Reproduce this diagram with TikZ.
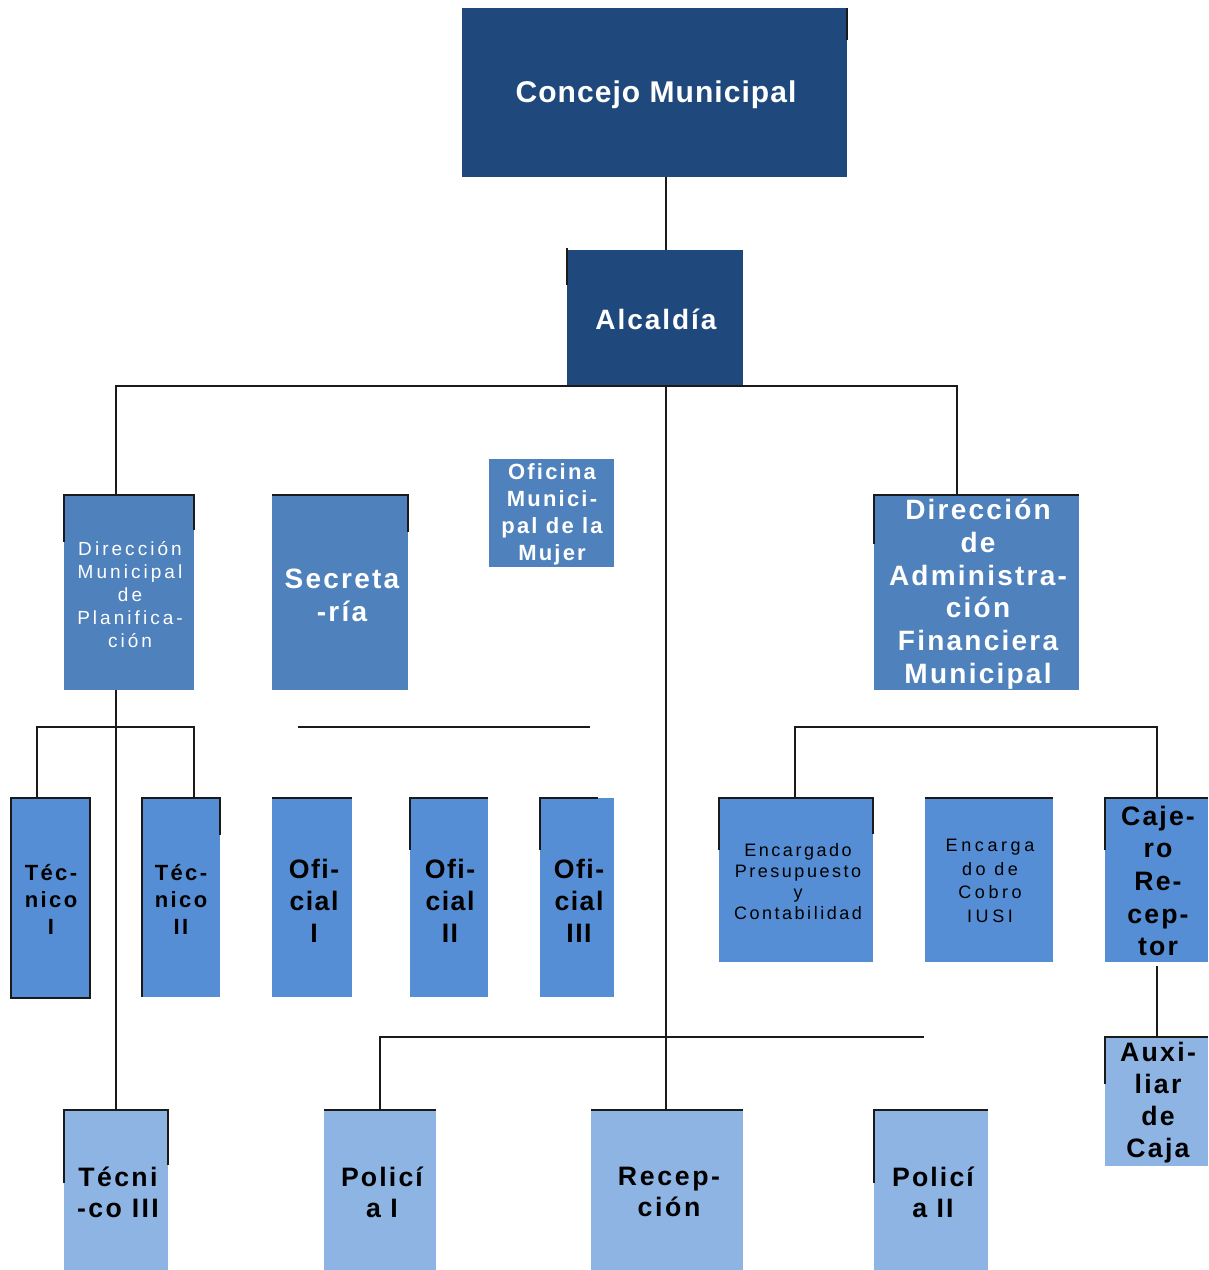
\documentclass[tikz,border=0pt]{standalone}
\usepackage{fontspec}
\setmainfont{Liberation Sans}
\usetikzlibrary{fit}
\definecolor{cdark}{HTML}{1F497D}
\definecolor{cmid}{HTML}{4F81BD}
\definecolor{cbright}{HTML}{558ED5}
\definecolor{clight}{HTML}{8EB4E3}
\definecolor{cline}{HTML}{1A1A1A}
\newcommand\fsz[3]{\fontsize{#1pt}{#2pt}\selectfont\addfontfeature{LetterSpace=#3}}
\tikzset{
  box/.style={inner sep=0pt, outer sep=0pt, draw=none, fill=#1},
  conn/.style={line width=1.5pt, draw=cline},
  edgeln/.style={line width=2.2pt, draw=cline},
  wt/.style={text=white, align=center, inner sep=0pt},
  bt/.style={text=black, align=center, inner sep=0pt},
}
\begin{document}
\begin{tikzpicture}[x=0.75pt, y=-0.75pt]
\useasboundingbox (0,0) rectangle (1209,1270);
% boxes
\node[box=cdark, fit={(462,8)(847,177)}] (cm) {};
\node[box=cdark, fit={(567,250)(743,386)}] (al) {};
\node[box=cmid, fit={(64,495)(194,690)}] (dmp) {};
\node[box=cmid, fit={(272,495)(408,690)}] (sec) {};
\node[box=cmid, fit={(489,459)(614,567)}] (omm) {};
\node[box=cmid, fit={(874,495)(1079,690)}] (dafm) {};
\node[box=cbright, fit={(11,798)(90,998)}] (t1) {};
\node[box=cbright, fit={(142,798)(220,997)}] (t2) {};
\node[box=cbright, fit={(272,798)(352,997)}] (o1) {};
\node[box=cbright, fit={(410,798)(488,997)}] (o2) {};
\node[box=cbright, fit={(540,798)(614,997)}] (o3) {};
\node[box=cbright, fit={(719,798)(873,962)}] (epc) {};
\node[box=cbright, fit={(925,798)(1053,962)}] (eci) {};
\node[box=cbright, fit={(1105,798)(1208,962)}] (caj) {};
\node[box=clight, fit={(1105,1037)(1208,1166)}] (aux) {};
\node[box=clight, fit={(64,1110)(168,1270)}] (t3) {};
\node[box=clight, fit={(324,1110)(436,1270)}] (p1) {};
\node[box=clight, fit={(591,1110)(743,1270)}] (rec) {};
\node[box=clight, fit={(874,1110)(988,1270)}] (p2) {};
% helper coordinates
\coordinate (trunk) at (666,386);
\coordinate (lx) at (116,386);
\coordinate (rx) at (957,386);
\coordinate (lb) at (116,727);
\coordinate (lbl) at (37,727);
\coordinate (lbr) at (194,727);
\coordinate (sa) at (298,727);
\coordinate (sb) at (590,727);
\coordinate (rb) at (795,727);
\coordinate (bb) at (380,1037);
\coordinate (be) at (924,1037);
% connectors
\draw[conn] (cm.south -| trunk) -- (al.north -| trunk);
\draw[conn] (dmp.north -| lx) -- (lx) -- (rx) -- (dafm.north -| rx);
\draw[conn] (trunk) -- (rec.north -| trunk);
\draw[conn] (dmp.south -| lx) -- (t3.north -| lx);
\draw[conn] (t1.north -| lbl) -- (lbl) -- (lbr) -- (t2.north -| lbr);
\draw[conn] (sa) -- (sb);
\draw[conn] (epc.north -| rb) -- (rb) -| (caj.north);
\draw[conn] ([yshift=-3pt]caj.south) -- (aux.north);
\draw[conn] (p1.north -| bb) -- (bb) -- (be);
% black edge fragments
\draw[edgeln] (cm.north east) -- ++(0,32);
\draw[edgeln] ([yshift=1.5pt]al.north west) -- ++(0,37);
\draw[edgeln] ([yshift=-35pt]dmp.north west) -- (dmp.north west) -- (dmp.north east) -- ++(0,35);
\draw[edgeln] (sec.north west) -- (sec.north east) -- ++(0,37);
\draw[edgeln] ([yshift=-37pt]dafm.north west) -- (dafm.north west) -- (dafm.north east);
\draw[edgeln] (t1.north west) rectangle (t1.south east);
\draw[edgeln] (t2.south west) -- (t2.north west) -- (t2.north east) -- ++(0,37);
\draw[edgeln] (o1.north west) -- (o1.north east);
\draw[edgeln] ([yshift=-39pt]o2.north west) -- (o2.north west) -- (o2.north east);
\draw[edgeln] ([yshift=-39pt]o3.north west) -- (o3.north west) -- ++(58,0);
\draw[edgeln] ([yshift=-39pt]epc.north west) -- (epc.north west) -- (epc.north east) -- ++(0,36);
\draw[edgeln] (eci.north west) -- (eci.north east);
\draw[edgeln] ([yshift=-39pt]caj.north west) -- (caj.north west) -- (caj.north east);
\draw[edgeln] ([yshift=-35pt]aux.north west) -- (aux.north west) -- (aux.north east);
\draw[edgeln] ([yshift=-55pt]t3.north west) -- (t3.north west) -- (t3.north east) -- ++(0,55);
\draw[edgeln] (p1.north west) -- (p1.north east);
\draw[edgeln] (rec.north west) -- (rec.north east);
\draw[edgeln] ([yshift=-55pt]p2.north west) -- (p2.north west) -- (p2.north east);
% texts
\node[wt, font=\fsz{22.5}{27}{3.5}\bfseries] (cm-t) at (656,95) {Concejo Municipal};
\node[wt, font=\fsz{21}{25}{7}\bfseries] (al-t) at (656,319) {Alcaldía};
\node[wt, font=\fsz{14.25}{17.25}{16}] (dmp-t) at (130,595) {Dirección\\Municipal\\de\\Planifica-\\ción};
\node[wt, font=\fsz{21}{24.75}{8}\bfseries] (sec-t) at (342,595) {Secreta\\-ría};
\node[wt, font=\fsz{16.5}{20.25}{10}\bfseries] (omm-t) at (552,514) {Oficina\\Munici-\\pal de la\\Mujer};
\node[wt, font=\fsz{21}{24.5}{8}\bfseries] (dafm-t) at (978,594) {Dirección\\de\\Administra-\\ción\\Financiera\\Municipal};
\node[bt, font=\fsz{16.5}{20.25}{11}\bfseries] (t1-t) at (51,899) {Téc-\\nico\\I};
\node[bt, font=\fsz{16.5}{20.25}{11}\bfseries] (t2-t) at (181,899) {Téc-\\nico\\II};
\node[bt, font=\fsz{20}{24}{5.5}\bfseries] (o1-t) at (314,901) {Ofi-\\cial\\I};
\node[bt, font=\fsz{20}{24}{5.5}\bfseries] (o2-t) at (450,901) {Ofi-\\cial\\II};
\node[bt, font=\fsz{20}{24}{5.5}\bfseries] (o3-t) at (579,901) {Ofi-\\cial\\III};
\node[bt, font=\fsz{13.5}{15.75}{14}] (epc-t) at (798,882) {Encargado\\Presupuesto\\y\\Contabilidad};
\node[bt, font=\fsz{13.5}{17.6}{20}] (eci-t) at (990,881) {Encarga\\do de\\Cobro\\IUSI};
\node[bt, font=\fsz{20}{24.5}{8}\bfseries] (caj-t) at (1158,881) {Caje-\\ro\\Re-\\cep-\\tor};
\node[bt, font=\fsz{20}{24}{8.5}\bfseries] (aux-t) at (1158,1103) {Auxi-\\liar\\de\\Caja};
\node[bt, font=\fsz{20}{23.25}{9}\bfseries] (t3-t) at (118,1192) {Técni\\-co III};
\node[bt, font=\fsz{20}{23.25}{8}\bfseries] (p1-t) at (382,1192) {Policí\\a I};
\node[bt, font=\fsz{20}{23.25}{10}\bfseries] (rec-t) at (669,1192) {Recep-\\ción};
\node[bt, font=\fsz{20}{23.25}{8}\bfseries] (p2-t) at (933,1192) {Policí\\a II};
\end{tikzpicture}
\end{document}
